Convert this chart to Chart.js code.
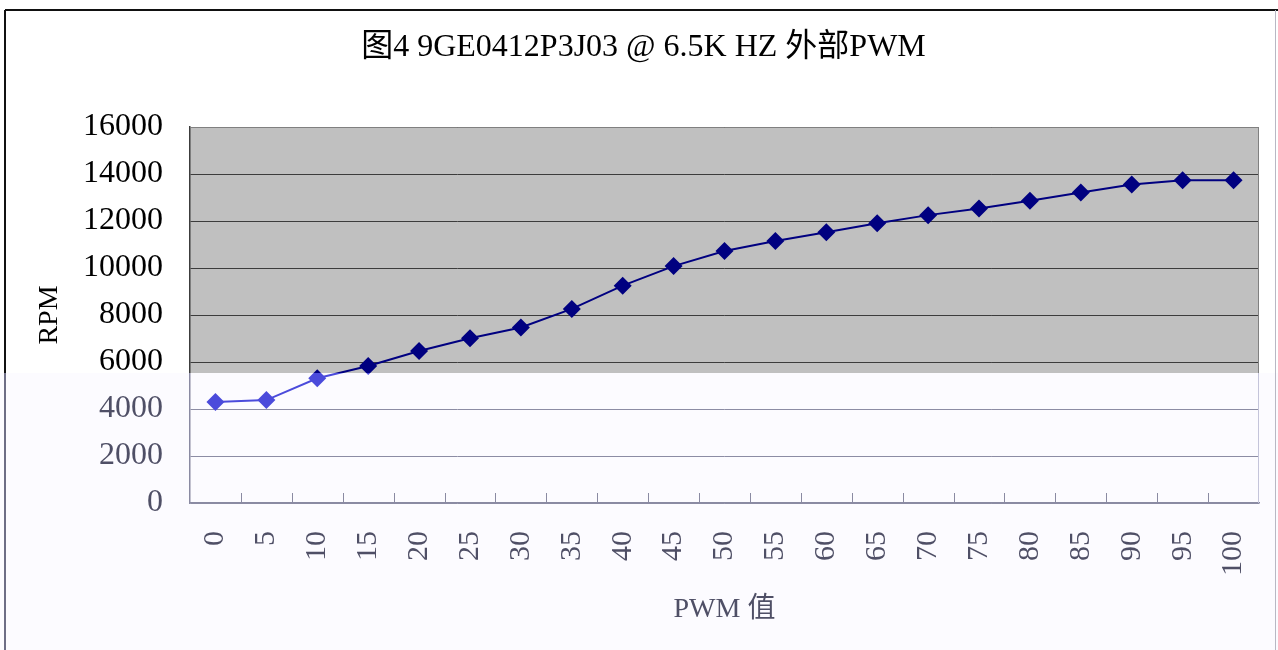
<!DOCTYPE html>
<html>
<head>
<meta charset="utf-8">
<script src="https://cdn.jsdelivr.net/npm/chart.js@4.4.1/dist/chart.umd.min.js"></script>
<style>
  html, body { margin: 0; padding: 0; background: #fff; }
  canvas { display: block; }
</style>
</head>
<body>
<canvas id="rpmChart" width="1278" height="650"></canvas>
<script>
// PWM duty (%) vs fan speed
const pwmLabels = ["0", "5", "10", "15", "20", "25", "30", "35", "40", "45", "50",
                   "55", "60", "65", "70", "75", "80", "85", "90", "95", "100"];
const rpmValues = [4300, 4380, 5310, 5830, 6470, 7010, 7470, 8260, 9250, 10080, 10720,
                   11150, 11520, 11900, 12250, 12530, 12860, 13210, 13550, 13730, 13730];
const yMin = 0, yMax = 16000, yStep = 2000;

const titleText = "图4 9GE0412P3J03 @ 6.5K HZ 外部PWM";
const xTitleText = "PWM 值";
const yTitleText = "RPM";

// everything below this line is washed out (lighter ink, lavender paper)
const SPLIT_Y = 373;
const WASH = "#fcfbff";
const INK = "#000000", INK_PALE = "#4f4f66";
const NAVY = "#000080", NAVY_PALE = "#4b4bdb";
const GRID = "#3c3c3c", GRID_PALE = "#8c8ca4";
const FRAME = "#808080", FRAME_PALE = "#8a8aa2";
const SERIF = '"Liberation Serif", "Times New Roman", "Noto Sans CJK SC", serif';

const canvas = document.getElementById("rpmChart");
const ctx = canvas.getContext("2d");

function splitGradient(top, bottom) {
  const g = ctx.createLinearGradient(0, 0, 0, canvas.height);
  const t = SPLIT_Y / canvas.height;
  g.addColorStop(0, top);
  g.addColorStop(t, top);
  g.addColorStop(t, bottom);
  g.addColorStop(1, bottom);
  return g;
}

const lineColor = splitGradient(NAVY, NAVY_PALE);
const axisColor = splitGradient(GRID, FRAME_PALE);

const backdrop = {
  id: "backdrop",
  beforeDraw(chart) {
    const { ctx, width, height, chartArea: a } = chart;
    ctx.save();
    ctx.fillStyle = "#ffffff";
    ctx.fillRect(0, 0, width, SPLIT_Y);
    ctx.fillStyle = WASH;
    ctx.fillRect(0, SPLIT_Y, width, height - SPLIT_Y);
    ctx.fillStyle = "#c0c0c0";
    ctx.fillRect(a.left, a.top, a.right - a.left, SPLIT_Y - a.top);
    ctx.restore();
  },
  afterDraw(chart) {
    const { ctx, width, height, chartArea: a } = chart;
    const xs = chart.scales.x;
    ctx.save();
    ctx.lineWidth = 1;

    // plot frame, top and right sides
    ctx.strokeStyle = FRAME;
    ctx.beginPath();
    ctx.moveTo(a.left, a.top + 0.5);
    ctx.lineTo(a.right, a.top + 0.5);
    ctx.stroke();
    ctx.strokeStyle = splitGradient(FRAME, "#c4c4da");
    ctx.beginPath();
    ctx.moveTo(a.right - 0.5, a.top);
    ctx.lineTo(a.right - 0.5, a.bottom);
    ctx.stroke();

    // category tick marks pointing into the plot
    ctx.strokeStyle = FRAME_PALE;
    ctx.beginPath();
    for (let i = 0; i < pwmLabels.length - 1; i++) {
      const px = Math.round((xs.getPixelForValue(i) + xs.getPixelForValue(i + 1)) / 2) + 0.5;
      ctx.moveTo(px, a.bottom);
      ctx.lineTo(px, a.bottom - 10);
    }
    ctx.stroke();

    // outer chart border
    ctx.lineWidth = 2;
    ctx.strokeStyle = "#111111";
    ctx.beginPath();
    ctx.moveTo(5, 10);
    ctx.lineTo(width, 10);
    ctx.stroke();
    ctx.strokeStyle = splitGradient("#111111", "#6e6e86");
    ctx.beginPath();
    ctx.moveTo(5, 10);
    ctx.lineTo(5, height);
    ctx.stroke();
    ctx.lineWidth = 1;
    ctx.strokeStyle = "#b8b8c4";
    ctx.beginPath();
    ctx.moveTo(width - 2.5, 10);
    ctx.lineTo(width - 2.5, height);
    ctx.stroke();
    ctx.restore();
  }
};

new Chart(ctx, {
  type: "line",
  data: {
    labels: pwmLabels,
    datasets: [{
      label: yTitleText,
      data: rpmValues,
      borderColor: lineColor,
      borderWidth: 2,
      pointStyle: "rectRot",
      pointRadius: 9,
      pointHoverRadius: 9,
      pointBackgroundColor: lineColor,
      pointBorderColor: lineColor,
      pointBorderWidth: 0,
      tension: 0
    }]
  },
  options: {
    responsive: false,
    devicePixelRatio: 1,
    animation: false,
    events: [],
    layout: { padding: { left: 28, right: 19, top: 0, bottom: 0 } },
    plugins: {
      legend: { display: false },
      tooltip: { enabled: false },
      title: {
        display: true,
        text: titleText,
        color: INK,
        font: { family: SERIF, size: 32, weight: "normal", lineHeight: 1.2 },
        padding: { top: 28, bottom: 60.6 }
      }
    },
    scales: {
      x: {
        type: "category",
        offset: true,
        grid: { display: false, offset: true },
        border: { display: true, color: FRAME_PALE, width: 1.5 },
        ticks: {
          autoSkip: false,
          minRotation: 90,
          maxRotation: 90,
          padding: 20,
          color: INK_PALE,
          font: { family: SERIF, size: 30 }
        },
        title: {
          display: true,
          text: xTitleText,
          color: INK_PALE,
          font: { family: SERIF, size: 28 },
          padding: { top: 0, bottom: 24 }
        },
        afterFit(scale) {
          scale.height = 147;
          scale.paddingLeft = 0;
          scale.paddingRight = 0;
        }
      },
      y: {
        min: yMin,
        max: yMax,
        grid: {
          drawTicks: false,
          color: c => c.tick.value < c.scale.getValueForPixel(SPLIT_Y) ? GRID_PALE : GRID,
          lineWidth: 1
        },
        border: { display: true, color: axisColor, width: 1.5 },
        ticks: {
          stepSize: yStep,
          padding: 27,
          callback: v => String(v),
          color: c => c.tick.value < c.scale.getValueForPixel(SPLIT_Y) ? INK_PALE : INK,
          font: { family: SERIF, size: 32 }
        },
        title: {
          display: true,
          text: yTitleText,
          color: INK,
          font: { family: SERIF, size: 28 },
          padding: { top: 5, bottom: 0 }
        },
        afterFit(scale) {
          scale.width = 162;
          scale.paddingTop = 0;
          scale.paddingBottom = 0;
        }
      }
    }
  },
  plugins: [backdrop]
});
</script>
</body>
</html>
